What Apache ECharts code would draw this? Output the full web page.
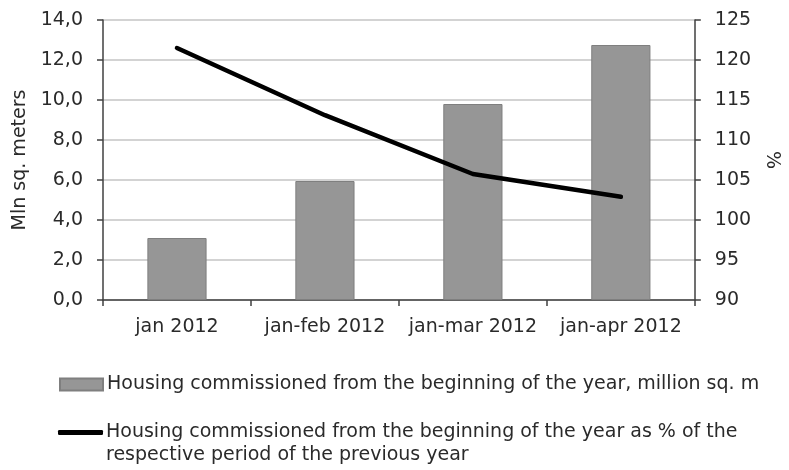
<!DOCTYPE html>
<html>
<head>
<meta charset="utf-8">
<script src="https://cdn.jsdelivr.net/npm/echarts@6/dist/echarts.min.js"></script>
<style>
  html, body { margin: 0; padding: 0; background: #fff; }
  #chart { width: 789px; height: 470px; }
</style>
</head>
<body>
<div id="chart"></div>
<script>
// Periods (cumulative from January)
const categories = ['jan 2012', 'jan-feb 2012', 'jan-mar 2012', 'jan-apr 2012'];
// Housing commissioned since start of year, million sq. m
const housingArea = [3.1, 5.95, 9.8, 12.75];
// Same as % of the respective period of the previous year
const housingPct = [121.5, 113.1, 105.75, 102.9];

const areaName = 'Housing commissioned from the beginning of the year, million sq. m';
const pctName = 'Housing commissioned from the beginning of the year as % of the';
const pctNameLine2 = 'respective period of the previous year';

const FONT = 'DejaVu Sans';
const FS = 19;
const TEXT = '#2a2a2a';
const AXIS = '#404040';

const chart = echarts.init(document.getElementById('chart'));
chart.setOption({
  animation: false,
  textStyle: { fontFamily: FONT },
  grid: { left: 103, right: 92, top: 20, bottom: 170 },
  legend: [
    {
      data: [{ name: areaName, icon: 'rect' }],
      left: 59, top: 375, padding: 0,
      itemWidth: 43, itemHeight: 12, itemGap: 0,
      textStyle: { fontFamily: FONT, fontSize: FS, color: TEXT, padding: [0, 0, 0, -1] }
    },
    {
      data: [{ name: pctName, icon: 'roundRect', itemStyle: { color: '#000' } }],
      left: 58, top: 423, padding: 0,
      itemWidth: 45, itemHeight: 5,
      textStyle: { fontFamily: FONT, fontSize: FS, color: TEXT, padding: [0, 0, 0, -2] }
    }
  ],
  graphic: [
    {
      type: 'text', left: 106, top: 446,
      style: { text: pctNameLine2, font: FS + 'px "' + FONT + '"', fill: TEXT }
    }
  ],
  xAxis: {
    type: 'category',
    data: categories,
    axisLine: { lineStyle: { color: AXIS, width: 1.5 } },
    axisTick: { show: true, length: 6, lineStyle: { color: AXIS, width: 1.5 } },
    axisLabel: { fontFamily: FONT, fontSize: FS, color: TEXT, margin: 18, interval: 0 }
  },
  yAxis: [
    {
      type: 'value', min: 0, max: 14, interval: 2,
      name: 'Mln sq. meters', nameLocation: 'middle', nameGap: 66, nameRotate: 90,
      nameTextStyle: { fontFamily: FONT, fontSize: FS, color: TEXT },
      axisLine: { show: true, lineStyle: { color: AXIS, width: 1.5 } },
      axisTick: { show: true, length: 6, lineStyle: { color: AXIS, width: 1.5 } },
      axisLabel: {
        fontFamily: FONT, fontSize: FS, color: TEXT, margin: 20,
        formatter: v => v.toFixed(1).replace('.', ',')
      },
      splitLine: { show: true, lineStyle: { color: '#c4c4c4', width: 1.5 } }
    },
    {
      type: 'value', min: 90, max: 125, interval: 5, position: 'right',
      name: '%', nameLocation: 'middle', nameGap: 64, nameRotate: -90,
      nameTextStyle: { fontFamily: FONT, fontSize: FS, color: TEXT },
      axisLine: { show: true, lineStyle: { color: AXIS, width: 1.5 } },
      axisTick: { show: true, length: 6, lineStyle: { color: AXIS, width: 1.5 } },
      axisLabel: { fontFamily: FONT, fontSize: FS, color: TEXT, margin: 20 },
      splitLine: { show: false }
    }
  ],
  series: [
    {
      name: areaName,
      type: 'bar',
      yAxisIndex: 0,
      data: housingArea,
      barWidth: '40%',
      itemStyle: { color: '#969696', borderColor: '#7f7f7f', borderWidth: 1 }
    },
    {
      name: pctName,
      type: 'line',
      yAxisIndex: 1,
      data: housingPct,
      symbol: 'none',
      lineStyle: { color: '#000', width: 4.5, cap: 'round', join: 'round' },
      itemStyle: { color: '#000' }
    }
  ]
});
</script>
</body>
</html>
